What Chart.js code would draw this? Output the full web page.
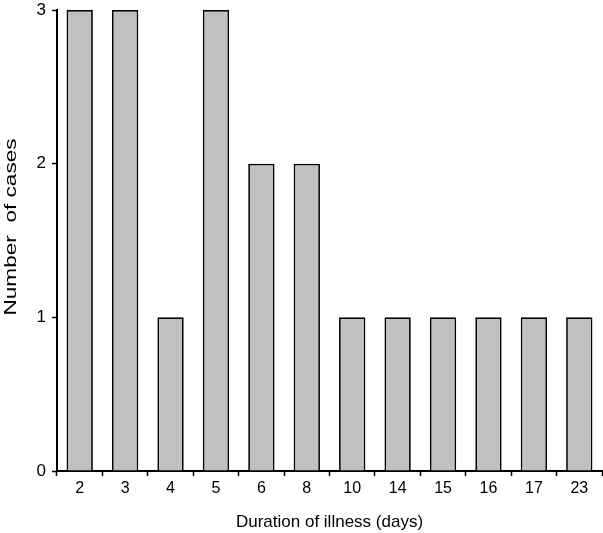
<!DOCTYPE html>
<html>
<head>
<meta charset="utf-8">
<script src="https://cdn.jsdelivr.net/npm/chart.js@4"></script>
<style>
  html, body { margin: 0; padding: 0; background: #fff; }
  #wrap { width: 603px; height: 533px; }
</style>
</head>
<body>
<div id="wrap"><canvas id="BarChart" width="603" height="533"></canvas></div>
<script>
const days = ["2", "3", "4", "5", "6", "8", "10", "14", "15", "16", "17", "23"];
const cases = [3, 3, 1, 3, 2, 2, 1, 1, 1, 1, 1, 1];
const yTicks = [0, 1, 2, 3];
const yTitle = "Number  of cases";
const xTitle = "Duration of illness (days)";

const font = "'Liberation Sans', Arial, Helvetica, sans-serif";

// y title in the reference is stretched along its length, draw it by hand
const yTitlePlugin = {
  id: "yTitle",
  afterDraw(chart) {
    const c = chart.ctx;
    c.save();
    c.translate(16, 227);
    c.rotate(-Math.PI / 2);
    c.scale(1.33, 1);
    c.font = "17px " + font;
    c.fillStyle = "#000";
    c.textAlign = "center";
    c.textBaseline = "alphabetic";
    c.fillText(yTitle, 0, 0);
    c.restore();
  },
};

const ctx = document.getElementById("BarChart").getContext("2d");

new Chart(ctx, {
  type: "bar",
  data: {
    labels: days,
    datasets: [
      {
        data: cases,
        backgroundColor: "#c0c0c0",
        borderColor: "#000",
        borderWidth: 1.75,
        categoryPercentage: 1,
        barPercentage: 0.58,
      },
    ],
  },
  plugins: [yTitlePlugin],
  options: {
    responsive: false,
    animation: false,
    layout: { padding: { top: 10, right: 1, left: 0, bottom: 0 } },
    plugins: {
      legend: { display: false },
      tooltip: { enabled: false },
    },
    scales: {
      x: {
        offset: true,
        grid: {
          offset: true,
          drawOnChartArea: false,
          drawTicks: true,
          tickLength: 5,
          tickWidth: 1.5,
          tickColor: "#000",
        },
        border: { color: "#000", width: 2 },
        ticks: { color: "#000", font: { family: font, size: 16 }, padding: 3, maxRotation: 0 },
        title: {
          display: true,
          text: xTitle,
          color: "#000",
          font: { family: font, size: 17 },
          padding: { top: 7, bottom: 0 },
        },
        afterFit: (axis) => {
          axis.height = 62;
          axis.paddingLeft = 0;
          axis.paddingRight = 0;
        },
      },
      y: {
        min: 0,
        max: 3,
        afterBuildTicks: (axis) => { axis.ticks = yTicks.map((v) => ({ value: v })); },
        grid: {
          drawOnChartArea: false,
          drawTicks: true,
          tickLength: 5,
          tickWidth: 1.5,
          tickColor: "#000",
        },
        border: { color: "#000", width: 2 },
        ticks: { color: "#000", font: { family: font, size: 17 }, padding: 6 },
        afterFit: (axis) => {
          axis.width = 57;
          axis.paddingTop = 0;
          axis.paddingBottom = 0;
        },
      },
    },
  },
});
</script>
</body>
</html>
